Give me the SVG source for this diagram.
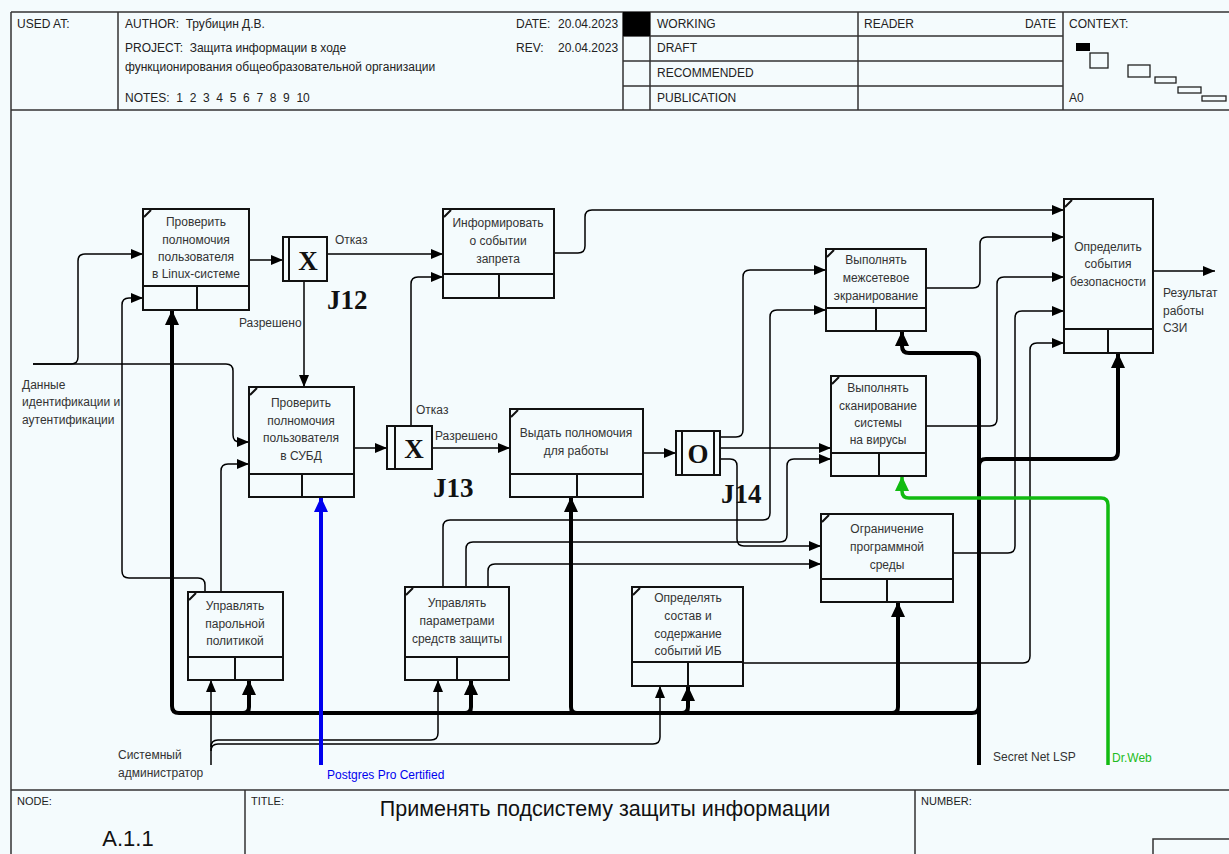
<svg xmlns="http://www.w3.org/2000/svg" width="1229" height="854" viewBox="0 0 1229 854">
<defs>
<marker id="a" markerUnits="userSpaceOnUse" markerWidth="12" markerHeight="10" refX="12" refY="5" orient="auto"><path d="M0,0 L12,5 L0,10 z" fill="#000"/></marker>
<marker id="ak" markerUnits="userSpaceOnUse" markerWidth="15" markerHeight="14" refX="15" refY="7" orient="auto"><path d="M0,0 L15,7 L0,14 z" fill="#000"/></marker>
<marker id="ab" markerUnits="userSpaceOnUse" markerWidth="15" markerHeight="14" refX="15" refY="7" orient="auto"><path d="M0,0 L15,7 L0,14 z" fill="#0000ee"/></marker>
<marker id="ag" markerUnits="userSpaceOnUse" markerWidth="15" markerHeight="14" refX="15" refY="7" orient="auto"><path d="M0,0 L15,7 L0,14 z" fill="#11bb11"/></marker>
<style>
text{font-family:"Liberation Sans",Arial,sans-serif;fill:#333}
.h{font-size:12px;fill:#222;white-space:pre}
.b{font-size:12px;text-anchor:middle}
.l{font-size:12px}
.j{font-family:"Liberation Serif","Times New Roman",serif;font-weight:bold;font-size:27px;fill:#111}
.jx{font-family:"Liberation Serif","Times New Roman",serif;font-weight:bold;font-size:27px;fill:#111;text-anchor:middle}
.box{fill:none;stroke:#111;stroke-width:2}
.fr{fill:none;stroke:#333;stroke-width:1.5}
.c{fill:none;stroke:#000;stroke-width:1.5;marker-end:url(#a)}
.k{fill:none;stroke:#000;stroke-width:4;marker-end:url(#ak)}
</style>
</defs>
<rect x="0" y="0" width="1229" height="854" fill="#f4fbfd"/>

<g id="frame">
<path class="fr" d="M11,12 H1229 M11,12 V854 M11,110 H1229 M118,12 V110 M623,12 V110 M650,12 V110 M858,12 V110 M1063,12 V110 M623,36 H1063 M623,61 H1063 M623,86 H1063"/>
<rect x="623" y="12" width="27" height="24" fill="#000"/>
<text class="h" x="17" y="28">USED AT:</text>
<text class="h" x="125" y="28" xml:space="preserve">AUTHOR:  Трубицин Д.В.</text>
<text class="h" x="125" y="52" xml:space="preserve">PROJECT:  Защита информации в ходе</text>
<text class="h" x="125" y="71">функционирования общеобразовательной организации</text>
<text class="h" x="125" y="102" xml:space="preserve">NOTES:  1  2  3  4  5  6  7  8  9  10</text>
<text class="h" x="516" y="28">DATE:</text>
<text class="h" x="558" y="28">20.04.2023</text>
<text class="h" x="516" y="52">REV:</text>
<text class="h" x="558" y="52">20.04.2023</text>
<text class="h" x="657" y="28">WORKING</text>
<text class="h" x="657" y="52">DRAFT</text>
<text class="h" x="657" y="77">RECOMMENDED</text>
<text class="h" x="657" y="102">PUBLICATION</text>
<text class="h" x="864" y="28">READER</text>
<text class="h" x="1056" y="28" text-anchor="end">DATE</text>
<text class="h" x="1069" y="28">CONTEXT:</text>
<text class="h" x="1069" y="102">A0</text>
<rect x="1076" y="43" width="14" height="8" fill="#000"/>
<g fill="none" stroke="#222" stroke-width="1.3">
<rect x="1090" y="53" width="18" height="15"/>
<rect x="1128" y="65" width="22" height="12"/>
<rect x="1155" y="77" width="21" height="6"/>
<rect x="1178" y="87" width="23" height="6"/>
<rect x="1202" y="96" width="24" height="5"/>
</g>
<path class="fr" d="M11,790 H1229 M245,790 V854 M915,790 V854 M1153,854 V839 H1229"/>
<text class="h" x="17" y="805" style="font-size:11px">NODE:</text>
<text class="h" x="251" y="805" style="font-size:11px">TITLE:</text>
<text class="h" x="921" y="805" style="font-size:11px">NUMBER:</text>
<text x="605" y="816" text-anchor="middle" style="font-size:21.5px;fill:#111">Применять подсистему защиты информации</text>
<text x="128" y="846" text-anchor="middle" style="font-size:22px;fill:#111">A.1.1</text>
</g>

<g id="connectors">
<path class="c" d="M33,364 H71 Q78,364 78,357 V261 Q78,254 85,254 H143"/>
<path class="c" d="M33,364 H226 Q233,364 233,371 V435 Q233,442 240,442 H249"/>
<path class="c" d="M249,260 H283"/>
<path class="c" d="M327,254 H443"/>
<path class="c" d="M304,281 V387"/>
<path class="c" d="M354,448 H387"/>
<path class="c" d="M432,448 H510"/>
<path class="c" d="M411,426 V284 Q411,277 418,277 H443"/>
<path class="c" d="M554,253 H578 Q585,253 585,246 V217 Q585,210 592,210 H1064"/>
<path class="c" d="M643,453 H676"/>
<path class="c" d="M720,437 H736 Q743,437 743,430 V277 Q743,270 750,270 H826"/>
<path class="c" d="M720,448 H831"/>
<path class="c" d="M720,459 H730 Q737,459 737,466 V539 Q737,546 744,546 H821"/>
<path class="c" d="M443,587 V527 Q443,520 450,520 H763 Q770,520 770,513 V317 Q770,310 777,310 H826"/>
<path class="c" d="M466,587 V549 Q466,542 473,542 H780 Q787,542 787,535 V466 Q787,459 794,459 H831"/>
<path class="c" d="M488,587 V571 Q488,564 495,564 H821"/>
<path class="c" d="M205,592 V585 Q205,578 198,578 H129 Q122,578 122,571 V305 Q122,298 129,298 H143"/>
<path class="c" d="M221,592 V471 Q221,464 228,464 H249"/>
<path class="c" d="M926,288 H973 Q980,288 980,281 V244 Q980,237 987,237 H1064"/>
<path class="c" d="M926,426 H990 Q997,426 997,419 V284 Q997,277 1004,277 H1064"/>
<path class="c" d="M953,553 H1008 Q1015,553 1015,546 V318 Q1015,311 1022,311 H1064"/>
<path class="c" d="M743,663 H1023 Q1030,663 1030,656 V350 Q1030,343 1037,343 H1064"/>
<path class="c" d="M1153,271 H1215"/>
<path class="c" d="M211,765 V680"/>
<path class="c" d="M211,747 Q211,740 218,740 H431 Q438,740 438,733 V680"/>
<path class="c" d="M211,751 Q211,744 218,744 H653 Q660,744 660,737 V686"/>
<path class="k" d="M979,765 V360 Q979,353 972,353 H909 Q902,353 902,346 V331"/>
<path class="k" d="M979,706 Q979,713 972,713 H179 Q172,713 172,706 V310"/>
<path class="k" d="M979,466 Q979,459 986,459 H1111 Q1118,459 1118,452 V353"/>
<path class="k" d="M243,713 Q249,713 249,707 V680"/>
<path class="k" d="M465,713 Q471,713 471,707 V680"/>
<path class="k" d="M577,713 Q571,713 571,707 V497"/>
<path class="k" d="M682,713 Q688,713 688,707 V686"/>
<path class="k" d="M892,713 Q898,713 898,707 V602"/>
<path d="M321,765 V497" fill="none" stroke="#0000ee" stroke-width="4" marker-end="url(#ab)"/>
<path d="M1108,765 V505 Q1108,498 1101,498 H909 Q902,498 902,491 V476" fill="none" stroke="#11bb11" stroke-width="3.5" marker-end="url(#ag)"/>
<text class="l" x="335" y="244">Отказ</text>
<text class="l" x="239" y="327">Разрешено</text>
<text class="l" x="416" y="414">Отказ</text>
<text class="l" x="435" y="440">Разрешено</text>
<text class="l" x="22" y="389">Данные</text>
<text class="l" x="22" y="406">идентификации и</text>
<text class="l" x="22" y="424">аутентификации</text>
<text class="l" x="1163" y="297">Результат</text>
<text class="l" x="1163" y="315">работы</text>
<text class="l" x="1163" y="332">СЗИ</text>
<text class="l" x="118" y="759">Системный</text>
<text class="l" x="118" y="777">администратор</text>
<text class="l" x="327" y="779" style="fill:#0000ee">Postgres Pro Certified</text>
<text class="l" x="993" y="761">Secret Net LSP</text>
<text class="l" x="1112" y="762" style="fill:#22bb22">Dr.Web</text>
</g>

<g id="box1">
<rect class="box" x="143" y="209" width="106" height="101"/>
<path class="box" d="M143,286 H249 M197,286 V310 M144,217 L151,210"/>
<text class="b" x="196" y="226">Проверить</text>
<text class="b" x="196" y="244">полномочия</text>
<text class="b" x="196" y="261">пользователя</text>
<text class="b" x="196" y="278">в Linux-системе</text>
</g>
<g id="box2">
<rect class="box" x="249" y="387" width="105" height="110"/>
<path class="box" d="M249,474 H354 M302,474 V497 M250,395 L257,388"/>
<text class="b" x="301" y="407">Проверить</text>
<text class="b" x="301" y="425">полномочия</text>
<text class="b" x="301" y="442">пользователя</text>
<text class="b" x="301" y="460">в СУБД</text>
</g>
<g id="box3">
<rect class="box" x="443" y="209" width="111" height="89"/>
<path class="box" d="M443,274 H554 M499,274 V298 M444,217 L451,210"/>
<text class="b" x="498" y="227">Информировать</text>
<text class="b" x="498" y="245">о событии</text>
<text class="b" x="498" y="263">запрета</text>
</g>
<g id="box4">
<rect class="box" x="510" y="409" width="133" height="88"/>
<path class="box" d="M510,474 H643 M577,474 V497 M511,417 L518,410"/>
<text class="b" x="576" y="437">Выдать полномочия</text>
<text class="b" x="576" y="455">для работы</text>
</g>
<g id="box5">
<rect class="box" x="826" y="249" width="100" height="82"/>
<path class="box" d="M826,308 H926 M876,308 V331 M827,257 L834,250"/>
<text class="b" x="876" y="264">Выполнять</text>
<text class="b" x="876" y="282">межсетевое</text>
<text class="b" x="876" y="300">экранирование</text>
</g>
<g id="box6">
<rect class="box" x="831" y="376" width="95" height="100"/>
<path class="box" d="M831,453 H926 M879,453 V476 M832,384 L839,377"/>
<text class="b" x="878" y="392">Выполнять</text>
<text class="b" x="878" y="410">сканирование</text>
<text class="b" x="878" y="427">системы</text>
<text class="b" x="878" y="444">на вирусы</text>
</g>
<g id="box7">
<rect class="box" x="1064" y="199" width="89" height="154"/>
<path class="box" d="M1064,329 H1153 M1108,329 V353 M1065,207 L1072,200"/>
<text class="b" x="1108" y="251">Определить</text>
<text class="b" x="1108" y="268">события</text>
<text class="b" x="1108" y="286">безопасности</text>
</g>
<g id="box8">
<rect class="box" x="821" y="514" width="132" height="88"/>
<path class="box" d="M821,579 H953 M887,579 V602 M822,522 L829,515"/>
<text class="b" x="887" y="533">Ограничение</text>
<text class="b" x="887" y="551">программной</text>
<text class="b" x="887" y="569">среды</text>
</g>
<g id="box9">
<rect class="box" x="632" y="587" width="111" height="99"/>
<path class="box" d="M632,662 H743 M688,662 V686 M633,595 L640,588"/>
<text class="b" x="688" y="602">Определять</text>
<text class="b" x="688" y="620">состав и</text>
<text class="b" x="688" y="638">содержание</text>
<text class="b" x="688" y="655">событий ИБ</text>
</g>
<g id="box10">
<rect class="box" x="188" y="592" width="95" height="88"/>
<path class="box" d="M188,657 H283 M235,657 V680 M189,600 L196,593"/>
<text class="b" x="235" y="610">Управлять</text>
<text class="b" x="235" y="628">парольной</text>
<text class="b" x="235" y="645">политикой</text>
</g>
<g id="box11">
<rect class="box" x="405" y="587" width="104" height="93"/>
<path class="box" d="M405,657 H509 M457,657 V680 M406,595 L413,588"/>
<text class="b" x="457" y="607">Управлять</text>
<text class="b" x="457" y="625">параметрами</text>
<text class="b" x="457" y="643">средств защиты</text>
</g>
<g id="J12">
<rect class="box" x="283" y="237" width="44" height="44" fill="#f4fbfd"/>
<path class="box" d="M289,237 V281"/>
<text class="jx" x="308" y="270">X</text>
<text class="j" x="327" y="309">J12</text>
</g>
<g id="J13">
<rect class="box" x="387" y="426" width="45" height="43" fill="#f4fbfd"/>
<path class="box" d="M395,426 V469"/>
<text class="jx" x="414" y="458">X</text>
<text class="j" x="433" y="497">J13</text>
</g>
<g id="J14">
<rect class="box" x="676" y="431" width="44" height="44" fill="#f4fbfd"/>
<path class="box" d="M682,431 V475 M714,431 V475"/>
<text class="jx" x="698" y="463">O</text>
<text class="j" x="721" y="503">J14</text>
</g>
</svg>
